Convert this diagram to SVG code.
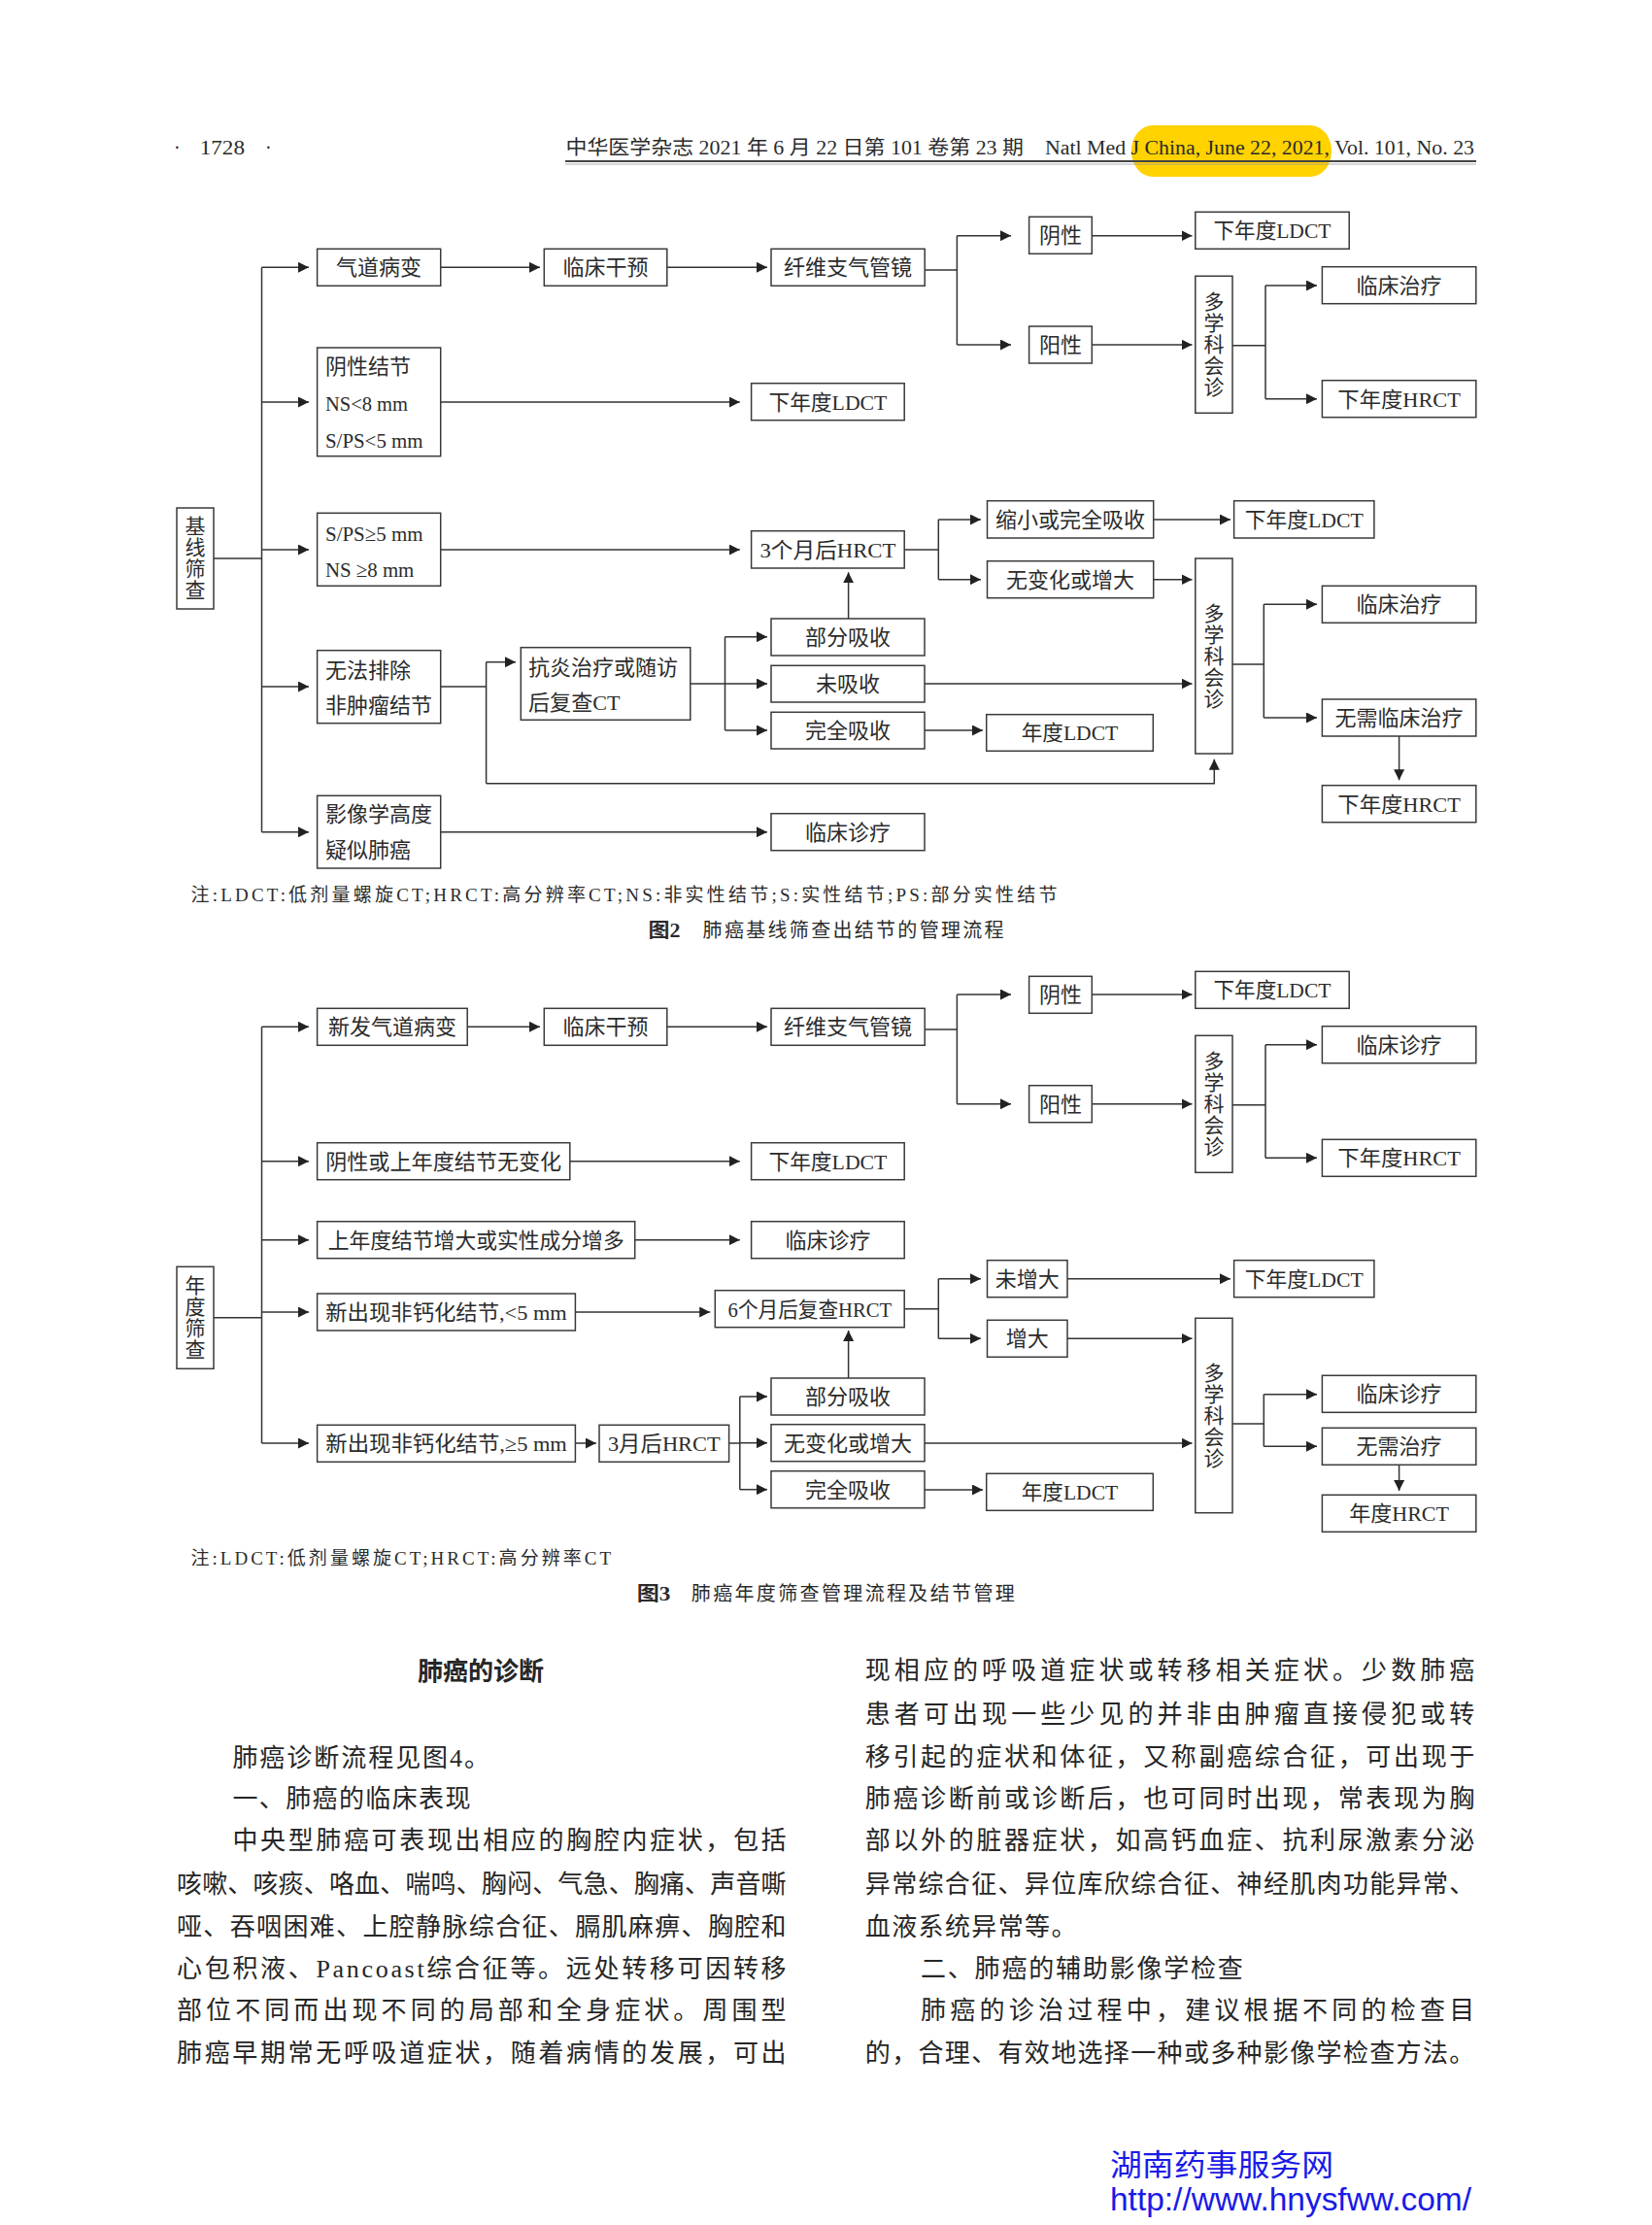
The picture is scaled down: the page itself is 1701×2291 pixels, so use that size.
<svg xmlns="http://www.w3.org/2000/svg" width="1701" height="2291" viewBox="0 0 1701 2291">
<style>
.box{fill:none;stroke:#3a3a3a;stroke-width:1.5}
.ln{fill:none;stroke:#333;stroke-width:1.5}
.ar{marker-end:url(#ah)}
.t{font-family:"Liberation Serif","Noto Sans CJK SC",serif;font-size:22px;fill:#2b2b2b}
.v{font-family:"Liberation Serif","Noto Sans CJK SC",serif;font-size:21px;fill:#2b2b2b;text-anchor:middle}
.c{text-anchor:middle}
.b{font-family:"Liberation Serif","Noto Sans CJK SC",serif;font-size:26px;fill:#262626}
.n{font-family:"Liberation Serif","Noto Sans CJK SC",serif;font-size:19px;fill:#2b2b2b}
.cap{font-family:"Liberation Serif","Noto Sans CJK SC",serif;font-size:20px;fill:#2b2b2b}
.hd{font-family:"Liberation Serif","Noto Sans CJK SC",serif;font-size:20px;fill:#2b2b2b}
</style>
<defs>
<marker id="ah" markerUnits="userSpaceOnUse" markerWidth="11" markerHeight="11" refX="11" refY="5.5" orient="auto"><path d="M0,0 L11,5.5 L0,11 z" fill="#222"/></marker>
</defs>
<rect width="1701" height="2291" fill="#fff"/>

<!-- header -->
<g id="header">
<rect x="1165" y="129" width="206" height="53" rx="22" ry="26" fill="#FFD200"/>
<text class="hd" x="179" y="159">·</text>
<text class="hd" x="205.7" y="159" textLength="46.3" lengthAdjust="spacingAndGlyphs">1728</text>
<text class="hd" x="273" y="159">·</text>
<text class="hd" x="582.5" y="159" textLength="471.5" lengthAdjust="spacingAndGlyphs">中华医学杂志 2021 年 6 月 22 日第 101 卷第 23 期</text>
<text class="hd" x="1076" y="159" textLength="442" lengthAdjust="spacingAndGlyphs">Natl Med J China, June 22, 2021, Vol. 101, No. 23</text>
<line x1="582" y1="166" x2="1520" y2="166" stroke="#444" stroke-width="1.8"/>
<line x1="582" y1="169" x2="1520" y2="169" stroke="#999" stroke-width="0.8"/>
</g>

<!-- ===== Figure 2 connectors ===== -->
<g id="connectors-fig2" class="ln">
<path d="M220,575 H269.5"/>
<path d="M269.5,275.3 V856.7"/>
<path class="ar" d="M269.5,275.3 H318"/>
<path class="ar" d="M269.5,414 H318"/>
<path class="ar" d="M269.5,566 H318"/>
<path class="ar" d="M269.5,707 H318"/>
<path class="ar" d="M269.5,856.7 H318"/>
<path class="ar" d="M453.7,275.3 H556"/>
<path class="ar" d="M686.8,275.3 H790"/>
<path d="M952.2,278 H985.4"/>
<path d="M985.4,242.7 V355"/>
<path class="ar" d="M985.4,242.7 H1041"/>
<path class="ar" d="M985.4,355 H1041"/>
<path class="ar" d="M1124.3,242.7 H1227.5"/>
<path class="ar" d="M1124.3,355 H1227.5"/>
<path d="M1269,355.7 H1303"/>
<path d="M1303,294 V410.7"/>
<path class="ar" d="M1303,294 H1356"/>
<path class="ar" d="M1303,410.7 H1356"/>
<path class="ar" d="M453.7,414 H761.8"/>
<path class="ar" d="M453.7,566 H761.8"/>
<path d="M931.2,566 H966.3"/>
<path d="M966.3,535 V596.7"/>
<path class="ar" d="M966.3,535 H1009.9"/>
<path class="ar" d="M966.3,596.7 H1009.9"/>
<path class="ar" d="M1187.7,535 H1267"/>
<path class="ar" d="M1187.7,596.7 H1227.5"/>
<path d="M1269,684 H1301.3"/>
<path d="M1301.3,622.3 V739"/>
<path class="ar" d="M1301.3,622.3 H1356"/>
<path class="ar" d="M1301.3,739 H1356"/>
<path class="ar" d="M1440.6,758 V803.3"/>
<path d="M453.7,707 H500.6"/>
<path d="M500.6,681.7 V806.7"/>
<path class="ar" d="M500.6,681.7 H531"/>
<path class="ar" d="M500.6,806.7 H1250.3 V781.7"/>
<path d="M710.8,704 H746.5"/>
<path d="M746.5,655.7 V752"/>
<path class="ar" d="M746.5,655.7 H790"/>
<path class="ar" d="M746.5,704 H790"/>
<path class="ar" d="M746.5,752 H790"/>
<path class="ar" d="M873.6,637 V589.3"/>
<path class="ar" d="M952,704 H1227.5"/>
<path class="ar" d="M952,752 H1012"/>
<path class="ar" d="M453.7,856.7 H790"/>
</g>

<!-- ===== Figure 2 nodes ===== -->
<g id="f2-root"><rect class="box" x="182" y="523" width="38" height="104"/>
<text class="v" x="201" y="549">基</text><text class="v" x="201" y="571">线</text><text class="v" x="201" y="593">筛</text><text class="v" x="201" y="615">查</text></g>
<g id="f2-airway"><rect class="box" x="326.6" y="256.3" width="127.1" height="38"/><text class="t c" x="390.1" y="283.1">气道病变</text></g>
<g id="f2-interv"><rect class="box" x="560.3" y="256.3" width="126.5" height="38"/><text class="t c" x="623.5" y="283.1">临床干预</text></g>
<g id="f2-bronch"><rect class="box" x="794" y="256.3" width="158.2" height="38"/><text class="t c" x="873.1" y="283.1">纤维支气管镜</text></g>
<g id="f2-neg"><rect class="box" x="1059.6" y="223.3" width="64.7" height="38"/><text class="t c" x="1092" y="250.1">阴性</text></g>
<g id="f2-pos"><rect class="box" x="1059.6" y="336" width="64.7" height="38"/><text class="t c" x="1092" y="362.8">阳性</text></g>
<g id="f2-ldct-a"><rect class="box" x="1230.8" y="218.3" width="158.4" height="38"/><text class="t c" x="1310" y="245.1" textLength="121" lengthAdjust="spacingAndGlyphs">下年度LDCT</text></g>
<g id="f2-mdt-a"><rect class="box" x="1230.8" y="284.3" width="38.2" height="141"/>
<text class="v" x="1250" y="318.3">多</text><text class="v" x="1250" y="340.3">学</text><text class="v" x="1250" y="362.3">科</text><text class="v" x="1250" y="384.3">会</text><text class="v" x="1250" y="406.3">诊</text></g>
<g id="f2-tx-a"><rect class="box" x="1361.4" y="274.7" width="158.4" height="38"/><text class="t c" x="1440.6" y="301.5">临床治疗</text></g>
<g id="f2-hrct-a"><rect class="box" x="1361.4" y="391.7" width="158.4" height="38"/><text class="t c" x="1440.6" y="418.5" textLength="126.5" lengthAdjust="spacingAndGlyphs">下年度HRCT</text></g>
<g id="f2-negnod"><rect class="box" x="326.6" y="358" width="127.1" height="111.7"/>
<text class="t" x="335" y="384.5">阴性结节</text>
<text class="t" x="335" y="422.8" textLength="85" lengthAdjust="spacingAndGlyphs">NS&lt;8 mm</text>
<text class="t" x="335" y="460.5" textLength="100.5" lengthAdjust="spacingAndGlyphs">S/PS&lt;5 mm</text></g>
<g id="f2-ldct-b"><rect class="box" x="773.6" y="394.7" width="157.6" height="38"/><text class="t c" x="852.4" y="421.5" textLength="122" lengthAdjust="spacingAndGlyphs">下年度LDCT</text></g>
<g id="f2-solid"><rect class="box" x="326.6" y="528.3" width="127.1" height="75"/>
<text class="t" x="335" y="556.8" textLength="100.5" lengthAdjust="spacingAndGlyphs">S/PS≥5 mm</text>
<text class="t" x="335" y="593.5" textLength="91.3" lengthAdjust="spacingAndGlyphs">NS ≥8 mm</text></g>
<g id="f2-hrct3m"><rect class="box" x="773.6" y="546.7" width="157.6" height="38.3"/><text class="t c" x="852.4" y="573.6" textLength="140" lengthAdjust="spacingAndGlyphs">3个月后HRCT</text></g>
<g id="f2-shrink"><rect class="box" x="1016.5" y="515.7" width="171.2" height="38.3"/><text class="t c" x="1102.1" y="542.6">缩小或完全吸收</text></g>
<g id="f2-ldct-c"><rect class="box" x="1270.6" y="515.7" width="144.3" height="38.3"/><text class="t c" x="1342.7" y="542.6" textLength="122" lengthAdjust="spacingAndGlyphs">下年度LDCT</text></g>
<g id="f2-nochg"><rect class="box" x="1016.5" y="577.7" width="171.2" height="38"/><text class="t c" x="1102.1" y="604.5">无变化或增大</text></g>
<g id="f2-mdt-b"><rect class="box" x="1230.8" y="575" width="38.2" height="201"/>
<text class="v" x="1250" y="639.2">多</text><text class="v" x="1250" y="661.2">学</text><text class="v" x="1250" y="683.2">科</text><text class="v" x="1250" y="705.2">会</text><text class="v" x="1250" y="727.2">诊</text></g>
<g id="f2-tx-b"><rect class="box" x="1361.4" y="603.3" width="158.4" height="38"/><text class="t c" x="1440.6" y="630.1">临床治疗</text></g>
<g id="f2-notx"><rect class="box" x="1361.4" y="720" width="158.4" height="38"/><text class="t c" x="1440.6" y="746.8">无需临床治疗</text></g>
<g id="f2-hrct-b"><rect class="box" x="1361.4" y="808.7" width="158.4" height="38"/><text class="t c" x="1440.6" y="835.5" textLength="126.5" lengthAdjust="spacingAndGlyphs">下年度HRCT</text></g>
<g id="f2-uncert"><rect class="box" x="326.6" y="669.7" width="127.1" height="75"/>
<text class="t" x="335" y="697.8">无法排除</text>
<text class="t" x="335" y="733.8">非肿瘤结节</text></g>
<g id="f2-antiinf"><rect class="box" x="536.3" y="666.7" width="174.5" height="74.6"/>
<text class="t" x="544" y="694.5">抗炎治疗或随访</text>
<text class="t" x="544" y="731.1" textLength="94.4" lengthAdjust="spacingAndGlyphs">后复查CT</text></g>
<g id="f2-partial"><rect class="box" x="794" y="637" width="158" height="38"/><text class="t c" x="873" y="663.8">部分吸收</text></g>
<g id="f2-notabs"><rect class="box" x="794" y="685.3" width="158" height="37.7"/><text class="t c" x="873" y="711.9">未吸收</text></g>
<g id="f2-fullabs"><rect class="box" x="794" y="733.3" width="158" height="37.7"/><text class="t c" x="873" y="759.9">完全吸收</text></g>
<g id="f2-annual"><rect class="box" x="1015.7" y="735.7" width="171.6" height="37.6"/><text class="t c" x="1101.5" y="762.3" textLength="99.5" lengthAdjust="spacingAndGlyphs">年度LDCT</text></g>
<g id="f2-imaging"><rect class="box" x="326.6" y="819.3" width="127.1" height="74.7"/>
<text class="t" x="335" y="845.5">影像学高度</text>
<text class="t" x="335" y="882.8">疑似肺癌</text></g>
<g id="f2-clin"><rect class="box" x="794" y="837.7" width="158" height="38"/><text class="t c" x="873" y="864.5">临床诊疗</text></g>

<g id="f2-caption">
<text class="n" x="196.5" y="927.5" textLength="892" lengthAdjust="spacing">注:LDCT:低剂量螺旋CT;HRCT:高分辨率CT;NS:非实性结节;S:实性结节;PS:部分实性结节</text>
<text class="cap" x="667.4" y="965.3" font-weight="bold" textLength="33" lengthAdjust="spacingAndGlyphs">图2</text>
<text class="cap" x="723.6" y="965.3" textLength="310" lengthAdjust="spacing">肺癌基线筛查出结节的管理流程</text>
</g>

<!-- ===== Figure 3 connectors ===== -->
<g id="connectors-fig3" class="ln">
<path d="M220,1356.7 H269.5"/>
<path d="M269.5,1057.3 V1486"/>
<path class="ar" d="M269.5,1057.3 H318"/>
<path class="ar" d="M269.5,1195.7 H318"/>
<path class="ar" d="M269.5,1276.7 H318"/>
<path class="ar" d="M269.5,1351 H318"/>
<path class="ar" d="M269.5,1486 H318"/>
<path class="ar" d="M481.2,1057.3 H556"/>
<path class="ar" d="M686.8,1057.3 H790"/>
<path d="M952.2,1060 H985.4"/>
<path d="M985.4,1024 V1136.7"/>
<path class="ar" d="M985.4,1024 H1041"/>
<path class="ar" d="M985.4,1136.7 H1041"/>
<path class="ar" d="M1124.3,1024 H1227.5"/>
<path class="ar" d="M1124.3,1136.7 H1227.5"/>
<path d="M1269,1137.7 H1303"/>
<path d="M1303,1075.7 V1192.3"/>
<path class="ar" d="M1303,1075.7 H1356"/>
<path class="ar" d="M1303,1192.3 H1356"/>
<path class="ar" d="M586.8,1195.7 H761.8"/>
<path class="ar" d="M653.7,1276.7 H761.8"/>
<path class="ar" d="M592.4,1351 H731.2"/>
<path d="M931.2,1347.7 H966.3"/>
<path d="M966.3,1316.7 V1378.3"/>
<path class="ar" d="M966.3,1316.7 H1009.9"/>
<path class="ar" d="M966.3,1378.3 H1009.9"/>
<path class="ar" d="M1099,1316.7 H1267"/>
<path class="ar" d="M1099,1378.3 H1227.5"/>
<path class="ar" d="M592.4,1486 H613.9"/>
<path d="M750.6,1486 H761.8"/>
<path d="M761.8,1438 V1533.7"/>
<path class="ar" d="M761.8,1438 H790"/>
<path class="ar" d="M761.8,1485.7 H790"/>
<path class="ar" d="M761.8,1533.7 H790"/>
<path class="ar" d="M873.6,1419 V1370"/>
<path class="ar" d="M952,1486 H1227.5"/>
<path class="ar" d="M952,1534 H1012"/>
<path d="M1269,1466 H1301.3"/>
<path d="M1301.3,1435.7 V1489.3"/>
<path class="ar" d="M1301.3,1435.7 H1356"/>
<path class="ar" d="M1301.3,1489.3 H1356"/>
<path class="ar" d="M1440.6,1508.3 V1535"/>
</g>

<!-- ===== Figure 3 nodes ===== -->
<g id="f3-root"><rect class="box" x="182" y="1304.3" width="38" height="105"/>
<text class="v" x="201" y="1331">年</text><text class="v" x="201" y="1353">度</text><text class="v" x="201" y="1375">筛</text><text class="v" x="201" y="1397">查</text></g>
<g id="f3-newair"><rect class="box" x="326.6" y="1038.3" width="154.6" height="38"/><text class="t c" x="403.9" y="1065.1">新发气道病变</text></g>
<g id="f3-interv"><rect class="box" x="560.3" y="1038.3" width="126.5" height="38"/><text class="t c" x="623.5" y="1065.1">临床干预</text></g>
<g id="f3-bronch"><rect class="box" x="794" y="1038.3" width="158.2" height="38"/><text class="t c" x="873.1" y="1065.1">纤维支气管镜</text></g>
<g id="f3-neg"><rect class="box" x="1059.6" y="1005.3" width="64.7" height="38"/><text class="t c" x="1092" y="1032.1">阴性</text></g>
<g id="f3-pos"><rect class="box" x="1059.6" y="1117.7" width="64.7" height="38"/><text class="t c" x="1092" y="1144.5">阳性</text></g>
<g id="f3-ldct-a"><rect class="box" x="1230.8" y="1000.3" width="158.4" height="38"/><text class="t c" x="1310" y="1027.1" textLength="121" lengthAdjust="spacingAndGlyphs">下年度LDCT</text></g>
<g id="f3-mdt-a"><rect class="box" x="1230.8" y="1066.3" width="38.2" height="141"/>
<text class="v" x="1250" y="1100.3">多</text><text class="v" x="1250" y="1122.3">学</text><text class="v" x="1250" y="1144.3">科</text><text class="v" x="1250" y="1166.3">会</text><text class="v" x="1250" y="1188.3">诊</text></g>
<g id="f3-clin-a"><rect class="box" x="1361.4" y="1056.7" width="158.4" height="38"/><text class="t c" x="1440.6" y="1083.5">临床诊疗</text></g>
<g id="f3-hrct-a"><rect class="box" x="1361.4" y="1173.3" width="158.4" height="38"/><text class="t c" x="1440.6" y="1200.1" textLength="126.5" lengthAdjust="spacingAndGlyphs">下年度HRCT</text></g>
<g id="f3-nochgprev"><rect class="box" x="326.6" y="1176.7" width="260.2" height="38"/><text class="t c" x="456.7" y="1203.5" textLength="243" lengthAdjust="spacingAndGlyphs">阴性或上年度结节无变化</text></g>
<g id="f3-ldct-b"><rect class="box" x="773.6" y="1176.7" width="157.6" height="38"/><text class="t c" x="852.4" y="1203.5" textLength="122" lengthAdjust="spacingAndGlyphs">下年度LDCT</text></g>
<g id="f3-grow"><rect class="box" x="326.6" y="1257.7" width="327.1" height="38"/><text class="t c" x="490.2" y="1284.5" textLength="305" lengthAdjust="spacingAndGlyphs">上年度结节增大或实性成分增多</text></g>
<g id="f3-clin-b"><rect class="box" x="773.6" y="1257.7" width="157.6" height="38"/><text class="t c" x="852.4" y="1284.5">临床诊疗</text></g>
<g id="f3-new5lt"><rect class="box" x="326.6" y="1332" width="265.8" height="38"/><text class="t c" x="459.5" y="1358.8" textLength="248.5" lengthAdjust="spacingAndGlyphs">新出现非钙化结节,&lt;5 mm</text></g>
<g id="f3-hrct6m"><rect class="box" x="736.3" y="1328.7" width="194.9" height="38"/><text class="t c" x="833.8" y="1355.5" textLength="168.4" lengthAdjust="spacingAndGlyphs">6个月后复查HRCT</text></g>
<g id="f3-nogrow"><rect class="box" x="1016.5" y="1297.7" width="82.5" height="38"/><text class="t c" x="1057.8" y="1324.5">未增大</text></g>
<g id="f3-ldct-c"><rect class="box" x="1270.6" y="1297.7" width="144.3" height="38"/><text class="t c" x="1342.7" y="1324.5" textLength="122" lengthAdjust="spacingAndGlyphs">下年度LDCT</text></g>
<g id="f3-grown"><rect class="box" x="1016.5" y="1359.3" width="82.5" height="38"/><text class="t c" x="1057.8" y="1386.1">增大</text></g>
<g id="f3-mdt-b"><rect class="box" x="1230.8" y="1357.3" width="38.2" height="200.4"/>
<text class="v" x="1250" y="1421">多</text><text class="v" x="1250" y="1443">学</text><text class="v" x="1250" y="1465">科</text><text class="v" x="1250" y="1487">会</text><text class="v" x="1250" y="1509">诊</text></g>
<g id="f3-new5ge"><rect class="box" x="326.6" y="1467.3" width="265.8" height="38"/><text class="t c" x="459.5" y="1494.1" textLength="248.5" lengthAdjust="spacingAndGlyphs">新出现非钙化结节,≥5 mm</text></g>
<g id="f3-hrct3m"><rect class="box" x="617" y="1467.3" width="133.6" height="38"/><text class="t c" x="683.8" y="1494.1" textLength="115.8" lengthAdjust="spacingAndGlyphs">3月后HRCT</text></g>
<g id="f3-partial"><rect class="box" x="794" y="1419" width="158" height="38"/><text class="t c" x="873" y="1445.8">部分吸收</text></g>
<g id="f3-nochg"><rect class="box" x="794" y="1466.7" width="158" height="38"/><text class="t c" x="873" y="1493.5">无变化或增大</text></g>
<g id="f3-fullabs"><rect class="box" x="794" y="1514.7" width="158" height="38"/><text class="t c" x="873" y="1541.5">完全吸收</text></g>
<g id="f3-annual"><rect class="box" x="1015.7" y="1517.3" width="171.6" height="38"/><text class="t c" x="1101.5" y="1544.1" textLength="99.5" lengthAdjust="spacingAndGlyphs">年度LDCT</text></g>
<g id="f3-clin-c"><rect class="box" x="1361.4" y="1416.3" width="158.4" height="38"/><text class="t c" x="1440.6" y="1443.1">临床诊疗</text></g>
<g id="f3-notx"><rect class="box" x="1361.4" y="1470.3" width="158.4" height="38"/><text class="t c" x="1440.6" y="1497.1">无需治疗</text></g>
<g id="f3-annhrct"><rect class="box" x="1361.4" y="1539.3" width="158.4" height="38"/><text class="t c" x="1440.6" y="1566.1" textLength="102.8" lengthAdjust="spacingAndGlyphs">年度HRCT</text></g>

<g id="f3-caption">
<text class="n" x="196.5" y="1610.8" textLength="432.5" lengthAdjust="spacing">注:LDCT:低剂量螺旋CT;HRCT:高分辨率CT</text>
<text class="cap" x="655.7" y="1647.7" font-weight="bold" textLength="34.7" lengthAdjust="spacingAndGlyphs">图3</text>
<text class="cap" x="711.8" y="1647.7" textLength="333" lengthAdjust="spacing">肺癌年度筛查管理流程及结节管理</text>
</g>

<!-- ===== body text ===== -->
<g id="body-left">
<text class="b" x="495" y="1730" font-size="28" font-weight="bold" text-anchor="middle">肺癌的诊断</text>
<text class="b" x="239.4" y="1819.4" textLength="264.6" lengthAdjust="spacing">肺癌诊断流程见图4。</text>
<text class="b" x="239.4" y="1861.1" textLength="245" lengthAdjust="spacing">一、肺癌的临床表现</text>
<text class="b" x="239.4" y="1904.4" textLength="570.2" lengthAdjust="spacing">中央型肺癌可表现出相应的胸腔内症状，包括</text>
<text class="b" x="182" y="1948.7" textLength="627.6" lengthAdjust="spacing">咳嗽、咳痰、咯血、喘鸣、胸闷、气急、胸痛、声音嘶</text>
<text class="b" x="182" y="1992.7" textLength="627.6" lengthAdjust="spacing">哑、吞咽困难、上腔静脉综合征、膈肌麻痹、胸腔和</text>
<text class="b" x="182" y="2036.1" textLength="627.6" lengthAdjust="spacing">心包积液、Pancoast综合征等。远处转移可因转移</text>
<text class="b" x="182" y="2079.4" textLength="627.6" lengthAdjust="spacing">部位不同而出现不同的局部和全身症状。周围型</text>
<text class="b" x="182" y="2122.7" textLength="627.6" lengthAdjust="spacing">肺癌早期常无呼吸道症状，随着病情的发展，可出</text>
</g>
<g id="body-right">
<text class="b" x="890.8" y="1729.4" textLength="627.5" lengthAdjust="spacing">现相应的呼吸道症状或转移相关症状。少数肺癌</text>
<text class="b" x="890.8" y="1774.4" textLength="627.5" lengthAdjust="spacing">患者可出现一些少见的并非由肿瘤直接侵犯或转</text>
<text class="b" x="890.8" y="1817.7" textLength="627.5" lengthAdjust="spacing">移引起的症状和体征，又称副癌综合征，可出现于</text>
<text class="b" x="890.8" y="1861.1" textLength="627.5" lengthAdjust="spacing">肺癌诊断前或诊断后，也可同时出现，常表现为胸</text>
<text class="b" x="890.8" y="1904.4" textLength="627.5" lengthAdjust="spacing">部以外的脏器症状，如高钙血症、抗利尿激素分泌</text>
<text class="b" x="890.8" y="1949.4" textLength="627.5" lengthAdjust="spacing">异常综合征、异位库欣综合征、神经肌肉功能异常、</text>
<text class="b" x="890.8" y="1992.7" textLength="217.7" lengthAdjust="spacing">血液系统异常等。</text>
<text class="b" x="948" y="2036.1" textLength="331.8" lengthAdjust="spacing">二、肺癌的辅助影像学检查</text>
<text class="b" x="948" y="2079.4" textLength="570.3" lengthAdjust="spacing">肺癌的诊治过程中，建议根据不同的检查目</text>
<text class="b" x="890.8" y="2122.7" textLength="627.5" lengthAdjust="spacing">的，合理、有效地选择一种或多种影像学检查方法。</text>
</g>

<g id="watermark">
<text x="1143" y="2240" font-family="'Noto Sans CJK SC',sans-serif" font-size="31" fill="#1a1ae6" textLength="230" lengthAdjust="spacingAndGlyphs">湖南药事服务网</text>
<text x="1143" y="2276" font-family="'Liberation Sans',sans-serif" font-size="33" fill="#1a1ae6" textLength="372" lengthAdjust="spacingAndGlyphs">http://www.hnysfww.com/</text>
</g>
</svg>
